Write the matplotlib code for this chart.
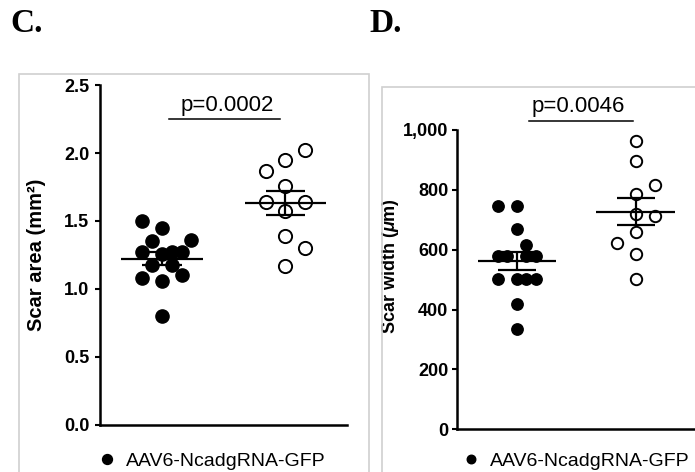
import numpy as np
import matplotlib
matplotlib.use("Agg")
import matplotlib.pyplot as plt
from matplotlib.patches import Rectangle
from matplotlib.ticker import FuncFormatter

plt.rcParams['font.family'] = ['Liberation Sans', 'DejaVu Sans']
plt.rcParams['mathtext.fontset'] = 'custom'
plt.rcParams['mathtext.rm'] = 'Liberation Sans:bold'
plt.rcParams['mathtext.it'] = 'Liberation Sans:italic:bold'

# data
legend_label = 'AAV6-NcadgRNA-GFP'

area_ctrl = [1.50, 1.45, 1.35, 1.36, 1.27, 1.26, 1.27, 1.27, 1.18, 1.18, 1.08, 1.06, 1.10, 0.80]
area_ctrl_slot = [-2, 0, -1, 3, -2, 0, 1, 2, -1, 1, -2, 0, 2, 0]
area_ko = [2.02, 1.95, 1.87, 1.76, 1.64, 1.64, 1.57, 1.39, 1.30, 1.17]
area_ko_slot = [2, 0, -2, 0, -2, 2, 0, 0, 2, 0]
area_p = 'p=0.0002'

width_ctrl = [746, 746, 670, 616, 580, 580, 580, 580, 502, 502, 502, 502, 420, 336]
width_ctrl_slot = [-2, 0, 0, 1, -2, -1, 1, 2, -2, 0, 1, 2, 0, 0]
width_ko = [964, 897, 817, 786, 720, 711, 660, 623, 586, 501]
width_ko_slot = [0, 0, 2, 0, 0, 2, 0, -2, 0, 0]
width_p = 'p=0.0046'

STEP = 0.08


def dot_panel(ax, ctrl, ctrl_slot, ko, ko_slot, ms):
    x1 = 1 + STEP * np.array(ctrl_slot)
    x2 = 2 + STEP * np.array(ko_slot)
    h = ax.plot(x1, ctrl, 'o', ms=ms, mfc='black', mec='black', ls='none',
                label=legend_label, zorder=2, clip_on=False)[0]
    ax.plot(x2, ko, 'o', ms=ms, mfc='white', mec='black', mew=1.4, ls='none',
            zorder=2, clip_on=False)
    for pos, vals in [(1, ctrl), (2, ko)]:
        vals = np.array(vals, dtype=float)
        m = vals.mean()
        sem = vals.std(ddof=1) / np.sqrt(len(vals))
        ax.hlines(m, pos - 0.33, pos + 0.33, color='black', lw=1.6, zorder=3)
        ax.vlines(pos, m - sem, m + sem, color='black', lw=1.6, zorder=3)
        ax.hlines([m - sem, m + sem], pos - 0.16, pos + 0.16, color='black', lw=1.6, zorder=3)
    ax.set_xlim(0.5, 2.5)
    ax.set_xticks([])
    for s in ['top', 'right']:
        ax.spines[s].set_visible(False)
    for s in ['left', 'bottom']:
        ax.spines[s].set_linewidth(1.8)
    ax.tick_params(axis='y', direction='out', length=3.6, width=1.5, labelsize=13)
    for lab in ax.get_yticklabels():
        lab.set_fontweight('bold')
    return h


fig = plt.figure(figsize=(6.95, 4.72), dpi=100)

# panel frames
fig.add_artist(Rectangle((19 / 695, -0.1), 350 / 695, 1 - 74 / 472 + 0.1,
                         transform=fig.transFigure, fill=False, ec='#d0d0d0', lw=1.2))
fig.add_artist(Rectangle((382 / 695, -0.1), 0.5, 1 - 87 / 472 + 0.1,
                         transform=fig.transFigure, fill=False, ec='#d0d0d0', lw=1.2))

axC = fig.add_axes([0.1439, 0.0996, 0.3554, 0.7203])
hC = dot_panel(axC, area_ctrl, area_ctrl_slot, area_ko, area_ko_slot, 9.5)
axC.set_ylim(0, 2.5)
axC.set_yticks([0, 0.5, 1.0, 1.5, 2.0, 2.5])
axC.yaxis.set_major_formatter(FuncFormatter(lambda v, _: f'{v:.1f}'))
axC.tick_params(axis='y', pad=4)
for lab in axC.get_yticklabels():
    lab.set_fontweight('bold')
axC.set_ylabel('Scar area (mm²)', fontsize=14.5, fontweight='bold')
axC.yaxis.set_label_coords(-0.219, 0.5)
axC.plot([1.06, 1.96], [2.25, 2.25], color='black', lw=1.1)
axC.text(1.53, 2.31, area_p, ha='center', va='baseline', fontsize=16)

axD = fig.add_axes([0.658, 0.0905, 0.342, 0.6341])
hD = dot_panel(axD, width_ctrl, width_ctrl_slot, width_ko, width_ko_slot, 8.2)
axD.set_ylim(0, 1000)
axD.set_yticks([0, 200, 400, 600, 800, 1000])
axD.yaxis.set_major_formatter(FuncFormatter(lambda v, _: f'{v:,.0f}'))
axD.tick_params(axis='y', pad=3)
for lab in axD.get_yticklabels():
    lab.set_fontweight('bold')
axD.set_ylabel(r'Scar width ($\mathit{\mu}$m)', fontsize=13, fontweight='bold')
axD.yaxis.set_label_coords(-0.237, 0.544)
axD.plot([1.1, 1.98], [1030, 1030], color='black', lw=1.1, clip_on=False)
axD.text(1.52, 1061, width_p, ha='center', va='baseline', fontsize=16)

# legends
for h, x in [(hC, 101 / 695), (hD, 465 / 695)]:
    fig.legend(handles=[h], loc='center left', bbox_to_anchor=(x, 0.0233),
               bbox_transform=fig.transFigure, frameon=False, fontsize=14,
               markerscale=0.75, handlelength=0.6, handletextpad=0.67,
               borderpad=0, borderaxespad=0)

# panel letters
fig.text(10 / 695, 1 - 32 / 472, 'C.', fontsize=24, fontweight='bold',
         family='Liberation Serif', va='baseline')
fig.text(369 / 695, 1 - 32 / 472, 'D.', fontsize=24, fontweight='bold',
         family='Liberation Serif', va='baseline')

fig.savefig('out.png', dpi=100)
